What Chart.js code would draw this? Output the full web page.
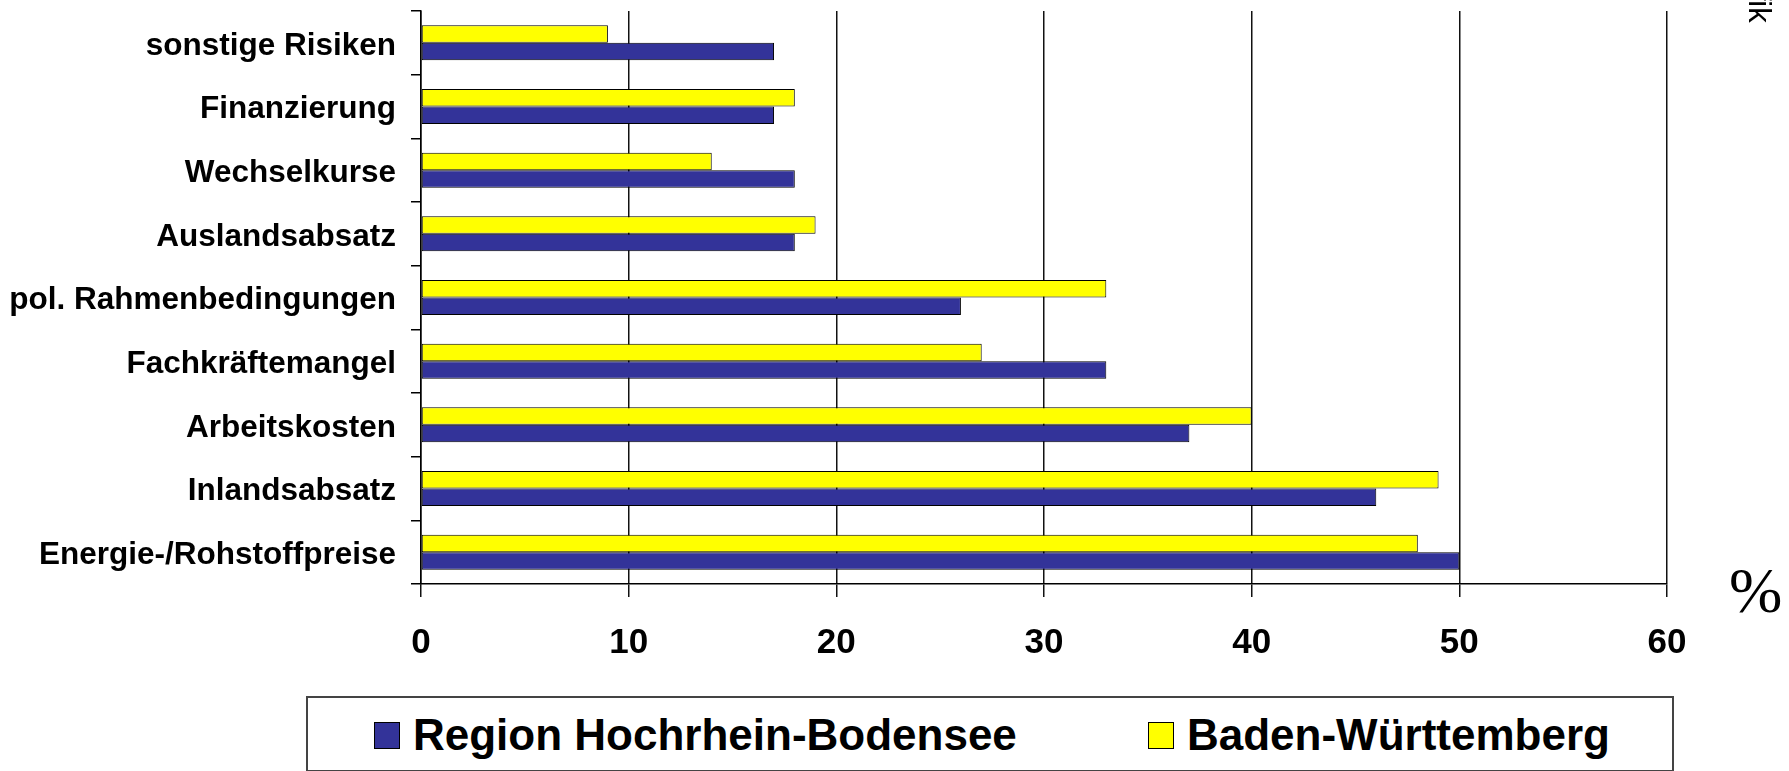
<!DOCTYPE html>
<html>
<head>
<meta charset="utf-8">
<script src="https://cdn.jsdelivr.net/npm/chart.js@4/dist/chart.umd.min.js"></script>
<style>
  html, body { margin: 0; padding: 0; background: #fff; }
  body { position: relative; width: 1789px; height: 771px; overflow: hidden; font-family: "Liberation Sans", Arial, sans-serif; }
  #chart { position: absolute; left: 0; top: 0; }
  #legend { position: absolute; left: 306px; top: 696px; width: 1364px; height: 72px; border: 2px solid #444; }
  .item { position: absolute; top: 1px; height: 72px; display: flex; align-items: center; font-weight: bold; font-size: 44px; color: #000; white-space: nowrap; }
  .swatch { width: 24px; height: 25px; border: 1px solid #000; margin-right: 13px; }
  #unit { position: absolute; left: 1729px; top: 559px; font-family: "Liberation Serif", "Times New Roman", serif; font-size: 64px; line-height: 64px; }
  #side { position: absolute; left: 1744px; bottom: 748px; writing-mode: vertical-rl; font-size: 31px; line-height: 31px; white-space: nowrap; }
</style>
</head>
<body>
<canvas id="chart" width="1789" height="690"></canvas>
<div id="legend"></div>
<div id="unit">%</div>
<div id="side">Grafik</div>
<script>
// Data (top to bottom)
const categories = [
    'sonstige Risiken',
    'Finanzierung',
    'Wechselkurse',
    'Auslandsabsatz',
    'pol. Rahmenbedingungen',
    'Fachkräftemangel',
    'Arbeitskosten',
    'Inlandsabsatz',
    'Energie-/Rohstoffpreise'
];
const regionValues = [17, 17, 18, 18, 26, 33, 37, 46, 50];
const bwValues = [9, 18, 14, 19, 33, 27, 40, 49, 48];
const xTicks = [0, 10, 20, 30, 40, 50, 60];
const seriesNames = ['Region Hochrhein-Bodensee', 'Baden-Württemberg'];
const seriesColors = ['#333399', '#ffff00'];

const FONT = '"Liberation Sans", Arial, sans-serif';

const ctx = document.getElementById('chart').getContext('2d');

const chart = new Chart(ctx, {
    type: 'bar',
    data: {
        labels: categories,
        datasets: [
            {
                label: seriesNames[1],
                data: bwValues,
                backgroundColor: seriesColors[1],
                borderColor: '#000',
                borderWidth: 1,
                borderSkipped: false,
                barPercentage: 1,
                categoryPercentage: 0.55
            },
            {
                label: seriesNames[0],
                data: regionValues,
                backgroundColor: seriesColors[0],
                borderColor: '#000',
                borderWidth: 1,
                borderSkipped: false,
                barPercentage: 1,
                categoryPercentage: 0.55
            }
        ]
    },
    options: {
        indexAxis: 'y',
        responsive: false,
        animation: false,
        devicePixelRatio: 1,
        layout: { padding: { top: 11, right: 122, left: 0, bottom: 0 } },
        plugins: {
            legend: { display: false },
            tooltip: { enabled: false }
        },
        scales: {
            x: {
                type: 'linear',
                min: xTicks[0],
                max: xTicks[xTicks.length - 1],
                afterBuildTicks: function(scale) {
                    scale.ticks = xTicks.map(v => ({ value: v }));
                },
                afterFit: function(scale) {
                    scale.height = 106;
                    scale.paddingLeft = 0;
                    scale.paddingRight = 0;
                },
                grid: { color: '#111', lineWidth: 1.5, tickLength: 13 },
                border: { display: true, color: '#000', width: 1.5 },
                ticks: {
                    color: '#000',
                    padding: 25,
                    maxRotation: 0,
                    font: { family: FONT, size: 35, weight: 'bold' }
                }
            },
            y: {
                afterFit: function(scale) {
                    scale.width = 421;
                    scale.paddingTop = 0;
                    scale.paddingBottom = 0;
                },
                grid: { offset: true, drawOnChartArea: false, drawTicks: true, tickLength: 10, color: '#000', lineWidth: 1.5 },
                border: { display: true, color: '#000', width: 1.5 },
                ticks: {
                    color: '#000',
                    padding: 15,
                    labelOffset: 3,
                    font: { family: FONT, size: 31.5, weight: 'bold' }
                }
            }
        }
    }
});

// Legend box (Region first, then Baden-Württemberg)
function buildLegend() {
    const legend = document.getElementById('legend');
    const lefts = [66, 840];
    seriesNames.forEach((name, i) => {
        const item = document.createElement('div');
        item.className = 'item';
        item.style.left = lefts[i] + 'px';
        const sw = document.createElement('div');
        sw.className = 'swatch';
        sw.style.background = seriesColors[i];
        const txt = document.createElement('span');
        txt.textContent = name;
        item.appendChild(sw);
        item.appendChild(txt);
        legend.appendChild(item);
    });
}
buildLegend();
</script>
</body>
</html>
